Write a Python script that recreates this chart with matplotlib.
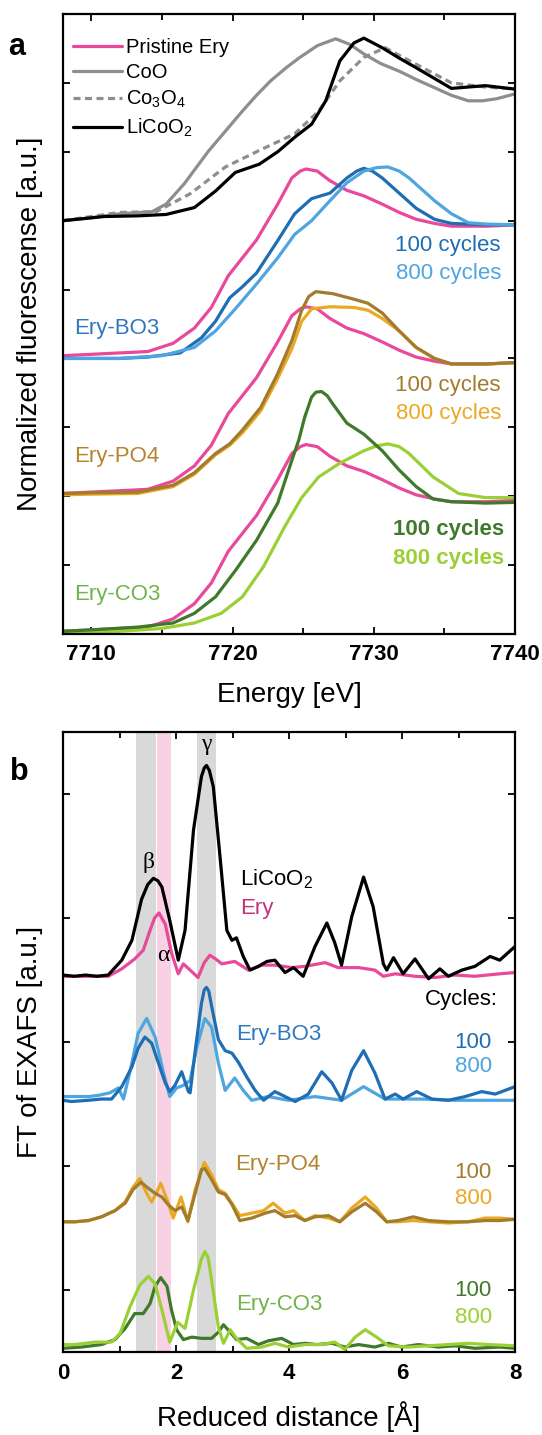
import matplotlib
matplotlib.use("Agg")
import matplotlib.pyplot as plt
from matplotlib.ticker import MultipleLocator

plt.rcParams['font.family'] = ['Liberation Sans', 'DejaVu Sans']
plt.rcParams['mathtext.fontset'] = 'custom'
plt.rcParams['mathtext.rm'] = 'Liberation Sans'
plt.rcParams['mathtext.it'] = 'Liberation Sans:italic'
plt.rcParams['mathtext.bf'] = 'Liberation Sans:bold'
plt.rcParams['lines.solid_joinstyle'] = 'round'
plt.rcParams['lines.solid_capstyle'] = 'round'

# ---------------- Panel a data: Co K-edge XANES (normalized) ----------------
E_coo = [7708, 7710, 7712, 7714.3, 7715.3, 7716.6, 7718.3, 7719.5, 7720.7, 7721.7, 7722.7,
         7723.8, 7724.7, 7726.0, 7727.3, 7728.3, 7729.3, 7730.5, 7731.8, 7733.0, 7734.3,
         7735.5, 7736.7, 7737.7, 7738.7, 7740]
mu_coo = [0.0, 0.02, 0.05, 0.065, 0.12, 0.27, 0.505, 0.65, 0.795, 0.91, 1.015,
          1.11, 1.18, 1.27, 1.32, 1.28, 1.21, 1.14, 1.085, 1.025, 0.965,
          0.91, 0.87, 0.87, 0.885, 0.92]

E_co3o4 = [7708, 7710, 7712, 7714.6, 7717.0, 7719.5, 7721.9, 7724.4, 7726.1, 7727.6,
           7729.3, 7730.8, 7733.0, 7735.5, 7737.9, 7740]
mu_co3o4 = [0.0, 0.03, 0.06, 0.065, 0.195, 0.39, 0.51, 0.63, 0.795, 1.015,
            1.185, 1.255, 1.135, 1.0, 0.97, 0.955]

E_lco = [7708, 7710.9, 7713.3, 7715.3, 7717.3, 7718.8, 7720.2, 7721.9, 7723.2, 7724.4,
         7725.6, 7726.6, 7727.6, 7728.6, 7729.3, 7730.6, 7731.8, 7733.0, 7735.5, 7737.9,
         7740]
mu_lco = [0.0, 0.03, 0.035, 0.045, 0.095, 0.215, 0.35, 0.41, 0.50, 0.605,
          0.70, 0.87, 1.16, 1.29, 1.325, 1.255, 1.18, 1.11, 0.96, 0.98,
          0.955]

E_ery = [7708, 7710, 7712, 7714, 7715.8, 7717.3, 7718.5, 7719.7, 7720.7, 7721.7,
         7723.2, 7724.2, 7724.8, 7725.2, 7726.0, 7726.9, 7728.1, 7729.3, 7730.6, 7731.8,
         7733, 7734.3, 7735.5, 7738, 7740]
mu_ery = [0.02, 0.03, 0.04, 0.05, 0.11, 0.22, 0.37, 0.60, 0.73, 0.86,
          1.12, 1.31, 1.36, 1.375, 1.36, 1.29, 1.22, 1.18, 1.12, 1.06,
          1.01, 0.98, 0.96, 0.96, 0.97]

E_bo3_100 = [7708, 7712, 7714, 7716.3, 7717.8, 7718.8, 7719.8, 7720.7, 7721.7, 7723.2,
             7724.4, 7725.6, 7726.9, 7728.1, 7728.8, 7729.3, 7729.9, 7730.6, 7731.8, 7733,
             7734.3, 7735.5, 7738, 7740]
mu_bo3_100 = [0.0, 0.0, 0.01, 0.04, 0.15, 0.27, 0.44, 0.52, 0.62, 0.855,
              1.05, 1.16, 1.2, 1.31, 1.36, 1.38, 1.36, 1.31, 1.2, 1.09,
              1.01, 0.98, 0.97, 0.97]
E_bo3_800 = [7708, 7712, 7715, 7717.3, 7718.8, 7720.2, 7721.7, 7723.2, 7724.4, 7725.6,
             7726.9, 7728.1, 7729.3, 7730.2, 7731, 7731.8, 7732.5, 7734.3, 7735.5, 7736.7,
             7738, 7740]
mu_bo3_800 = [0.0, 0.0, 0.02, 0.08, 0.2, 0.36, 0.54, 0.73, 0.9, 1.0,
              1.145, 1.275, 1.36, 1.385, 1.39, 1.36, 1.31, 1.145, 1.05, 0.985,
              0.975, 0.97]

E_po4_100 = [7708, 7710, 7713.3, 7715.8, 7717.3, 7718.8, 7719.8, 7720.7, 7722, 7723.2,
             7724.2, 7724.9, 7725.4, 7725.9, 7727.1, 7728.6, 7729.6, 7730.6, 7731.8, 7733,
             7734.3, 7735.5, 7738, 7740]
mu_po4_100 = [0.02, 0.025, 0.03, 0.08, 0.17, 0.31, 0.38, 0.48, 0.645, 0.89,
              1.13, 1.35, 1.45, 1.485, 1.47, 1.43, 1.40, 1.33, 1.2, 1.08,
              1.0, 0.96, 0.96, 0.97]
E_po4_800 = [7708, 7710, 7713.3, 7715.8, 7717.3, 7718.8, 7719.8, 7720.7, 7722, 7723.2,
             7724.2, 7724.9, 7725.6, 7726.9, 7728.6, 7729.6, 7730.6, 7731.8, 7733, 7734.3,
             7735.5, 7738, 7740]
mu_po4_800 = [0.01, 0.015, 0.02, 0.07, 0.16, 0.30, 0.37, 0.46, 0.62, 0.855,
              1.07, 1.27, 1.36, 1.375, 1.37, 1.35, 1.29, 1.2, 1.08, 1.0,
              0.96, 0.96, 0.97]

E_co3_100 = [7708, 7710, 7713.3, 7715.8, 7717.3, 7718.8, 7720.2, 7721.7, 7723.2, 7724.2,
             7724.7, 7725.1, 7725.6, 7725.9, 7726.3, 7726.7, 7727.1, 7728.1, 7729.3, 7730.6,
             7731.8, 7733.0, 7734.2, 7735.5, 7737.9, 7740]
mu_co3_100 = [0.02, 0.03, 0.05, 0.08, 0.15, 0.27, 0.46, 0.68, 0.95, 1.26,
              1.41, 1.57, 1.72, 1.755, 1.76, 1.73, 1.67, 1.53, 1.45, 1.33,
              1.19, 1.07, 0.98, 0.96, 0.95, 0.955]
E_co3_800 = [7708, 7712, 7715, 7717.3, 7719.2, 7720.7, 7722.2, 7723.7, 7724.9, 7726.1,
             7727.6, 7729.3, 7730.2, 7731.0, 7731.8, 7732.5, 7734.2, 7736.0, 7737.9, 7740]
mu_co3_800 = [0.0, 0.02, 0.04, 0.08, 0.15, 0.27, 0.49, 0.78, 0.99, 1.14,
              1.24, 1.33, 1.365, 1.38, 1.36, 1.31, 1.14, 1.02, 0.99, 0.99]

# ---------------- Panel b data: FT of EXAFS ----------------
r_lco = [0, 0.2, 0.4, 0.6, 0.8, 1.04, 1.22, 1.39, 1.50, 1.60, 1.68, 1.75, 1.89, 2.04, 2.16,
         2.31, 2.45, 2.50, 2.54, 2.59, 2.66, 2.78, 2.90, 2.99, 3.07, 3.19, 3.31, 3.46, 3.61,
         3.75, 3.93, 4.08, 4.25, 4.46, 4.67, 4.81, 4.93, 5.11, 5.32, 5.49, 5.67, 5.73, 5.85,
         6.02, 6.23, 6.47, 6.67, 6.82, 7.06, 7.29, 7.56, 7.73, 8.0]
ft_lco = [0.04, 0.03, 0.04, 0.03, 0.04, 0.16, 0.32, 0.65, 0.77, 0.82, 0.80, 0.75, 0.48, 0.16,
          0.40, 1.21, 1.64, 1.71, 1.73, 1.69, 1.56, 0.99, 0.40, 0.32, 0.34, 0.19, 0.08, 0.11,
          0.15, 0.16, 0.06, 0.10, 0.03, 0.27, 0.46, 0.30, 0.12, 0.51, 0.83, 0.59, 0.13, 0.08,
          0.18, 0.05, 0.17, 0.01, 0.09, 0.03, 0.08, 0.11, 0.19, 0.16, 0.27]

r_ery = [0, 0.4, 0.8, 1.04, 1.27, 1.42, 1.54, 1.62, 1.70, 1.81, 1.92, 2.04, 2.13, 2.25, 2.39,
         2.50, 2.60, 2.70, 2.81, 3.04, 3.28, 3.52, 3.75, 4.05, 4.28, 4.64, 4.87, 5.23, 5.52,
         5.67, 5.88, 6.23, 6.58, 6.94, 7.29, 7.73, 8.0]
ft_ery = [0.03, 0.03, 0.03, 0.09, 0.17, 0.24, 0.40, 0.50, 0.54, 0.45, 0.22, 0.05, 0.13, 0.08,
          0.02, 0.14, 0.20, 0.17, 0.13, 0.15, 0.08, 0.12, 0.12, 0.10, 0.11, 0.14, 0.10, 0.10,
          0.08, 0.03, 0.05, 0.03, 0.02, 0.04, 0.03, 0.05, 0.06]

r_bo3_100 = [0, 0.15, 0.45, 0.68, 0.86, 1.04, 1.22, 1.33, 1.45, 1.57, 1.69, 1.81, 1.89, 1.98,
             2.10, 2.22, 2.25, 2.34, 2.45, 2.50, 2.54, 2.58, 2.63, 2.75, 2.87, 2.99, 3.10, 3.25,
             3.40, 3.55, 3.75, 3.93, 4.11, 4.34, 4.58, 4.76, 4.93, 5.11, 5.32, 5.52, 5.70, 5.88,
             6.02, 6.26, 6.53, 6.82, 7.12, 7.41, 7.65, 8.0]
ft_bo3_100 = [0.03, 0.02, 0.03, 0.04, 0.04, 0.14, 0.30, 0.45, 0.54, 0.49, 0.33, 0.17, 0.10,
              0.15, 0.26, 0.10, 0.09, 0.43, 0.81, 0.92, 0.94, 0.91, 0.79, 0.52, 0.43, 0.41,
              0.34, 0.22, 0.11, 0.03, 0.10, 0.06, 0.02, 0.08, 0.26, 0.17, 0.03, 0.27, 0.43,
              0.25, 0.04, 0.08, 0.04, 0.10, 0.04, 0.03, 0.06, 0.10, 0.08, 0.14]
r_bo3_800 = [0, 0.15, 0.45, 0.63, 0.83, 0.98, 1.07, 1.19, 1.33, 1.48, 1.63, 1.78, 1.89, 2.01,
             2.13, 2.25, 2.37, 2.51, 2.63, 2.75, 2.87, 3.04, 3.19, 3.34, 3.63, 3.99, 4.46,
             4.93, 5.32, 5.70, 6.35, 6.94, 7.53, 8.0]
ft_bo3_800 = [0.06, 0.06, 0.06, 0.07, 0.09, 0.13, 0.04, 0.27, 0.57, 0.69, 0.54, 0.25, 0.06,
              0.13, 0.15, 0.19, 0.46, 0.69, 0.62, 0.33, 0.11, 0.21, 0.11, 0.03, 0.06, 0.03,
              0.06, 0.03, 0.14, 0.04, 0.04, 0.03, 0.03, 0.03]

r_po4_100 = [0, 0.21, 0.45, 0.68, 0.92, 1.10, 1.24, 1.38, 1.51, 1.63, 1.75, 1.86, 1.98, 2.10,
             2.21, 2.34, 2.45, 2.51, 2.63, 2.75, 2.87, 2.99, 3.13, 3.34, 3.58, 3.75, 3.93,
             4.11, 4.28, 4.46, 4.70, 4.90, 5.11, 5.35, 5.55, 5.73, 5.93, 6.20, 6.47, 6.82,
             7.17, 7.47, 7.73, 8.0]
ft_po4_100 = [0.05, 0.05, 0.06, 0.09, 0.14, 0.20, 0.31, 0.37, 0.32, 0.28, 0.25, 0.19, 0.14,
              0.17, 0.06, 0.28, 0.47, 0.48, 0.39, 0.29, 0.27, 0.19, 0.06, 0.08, 0.12, 0.14,
              0.09, 0.10, 0.06, 0.09, 0.10, 0.05, 0.13, 0.20, 0.13, 0.05, 0.06, 0.09, 0.06,
              0.05, 0.05, 0.06, 0.06, 0.07]
r_po4_800 = [0, 0.21, 0.45, 0.68, 0.92, 1.10, 1.24, 1.36, 1.48, 1.57, 1.66, 1.73, 1.84, 1.95,
             2.09, 2.21, 2.34, 2.50, 2.63, 2.75, 2.87, 2.99, 3.13, 3.34, 3.55, 3.72, 3.93,
             4.08, 4.28, 4.46, 4.70, 4.90, 5.11, 5.35, 5.55, 5.73, 5.93, 6.20, 6.47, 6.82,
             7.17, 7.47, 7.73, 8.0]
ft_po4_800 = [0.05, 0.05, 0.06, 0.09, 0.14, 0.21, 0.33, 0.40, 0.28, 0.21, 0.29, 0.36, 0.23,
              0.08, 0.25, 0.05, 0.31, 0.53, 0.43, 0.31, 0.28, 0.20, 0.10, 0.12, 0.14, 0.20,
              0.12, 0.14, 0.06, 0.10, 0.08, 0.05, 0.16, 0.25, 0.16, 0.05, 0.05, 0.06, 0.05,
              0.04, 0.05, 0.08, 0.08, 0.07]

r_co3_100 = [0, 0.33, 0.68, 0.92, 1.10, 1.27, 1.42, 1.54, 1.63, 1.73, 1.84, 1.92, 2.01, 2.13,
             2.28, 2.45, 2.63, 2.75, 2.84, 2.96, 3.07, 3.25, 3.46, 3.63, 3.87, 4.08, 4.28,
             4.49, 4.76, 4.99, 5.23, 5.52, 5.76, 5.99, 6.29, 6.64, 6.94, 7.29, 7.73, 8.0]
ft_co3_100 = [0.03, 0.04, 0.06, 0.10, 0.19, 0.31, 0.31, 0.39, 0.53, 0.60, 0.53, 0.34, 0.18,
              0.10, 0.12, 0.11, 0.11, 0.16, 0.22, 0.16, 0.10, 0.11, 0.06, 0.09, 0.11, 0.06,
              0.07, 0.06, 0.07, 0.04, 0.06, 0.04, 0.07, 0.04, 0.06, 0.04, 0.05, 0.03, 0.04,
              0.03]
r_co3_800 = [0, 0.21, 0.57, 0.86, 1.01, 1.19, 1.36, 1.51, 1.63, 1.75, 1.89, 2.03, 2.16, 2.31,
             2.45, 2.51, 2.57, 2.63, 2.75, 2.84, 2.96, 3.07, 3.25, 3.52, 3.75, 3.99, 4.28, 4.58,
             4.81, 4.99, 5.17, 5.35, 5.55, 5.76, 6.11, 6.47, 6.82, 7.17, 7.53, 8.0]
ft_co3_800 = [0.06, 0.06, 0.08, 0.08, 0.15, 0.37, 0.54, 0.61, 0.55, 0.34, 0.08, 0.24, 0.19,
              0.50, 0.75, 0.81, 0.76, 0.58, 0.20, 0.07, 0.18, 0.11, 0.03, 0.04, 0.07, 0.04,
              0.06, 0.06, 0.08, 0.02, 0.12, 0.18, 0.12, 0.05, 0.04, 0.05, 0.06, 0.07, 0.06,
              0.05]

band_beta = (1.29, 1.65)
band_alpha = (1.67, 1.91)
band_gamma = (2.38, 2.71)

# ---------------- colours ----------------
C_PINK = '#e8499a'
C_GRAY = '#8e8e8e'
C_B100 = '#1f6db3'
C_B800 = '#4ea5e0'
C_P100 = '#a27b2c'
C_P800 = '#eaa924'
C_C100 = '#3f7a2a'
C_C800 = '#9ccf36'
LW = 2.3

W, H = 542, 1435
fig = plt.figure(figsize=(W / 100, H / 100), dpi=100)

def add_ax(left, top, right, bottom):
    return fig.add_axes([left / W, 1 - bottom / H, (right - left) / W, (bottom - top) / H])

axa = add_ax(63, 14, 515, 634)
axb = add_ax(63, 732, 515, 1352)

def style(ax, pad):
    for s in ax.spines.values():
        s.set_linewidth(1.6)
    ax.tick_params(which='both', direction='in', top=True, right=True, width=1.3,
                   labelsize=16, pad=pad)
    ax.tick_params(which='major', length=5)
    ax.tick_params(which='minor', length=4)
    ax.tick_params(axis='y', labelleft=False)
    for lab in ax.get_xticklabels():
        lab.set_fontweight('bold')

# ---------------- Panel a ----------------
def off(vals, o):
    return [2 * v + o for v in vals]

l1, = axa.plot(E_ery, off(mu_ery, 4), color=C_PINK, lw=LW, label='Pristine Ery')
l2, = axa.plot(E_coo, off(mu_coo, 6), color=C_GRAY, lw=LW, label='CoO')
l3, = axa.plot(E_co3o4, off(mu_co3o4, 6), color=C_GRAY, lw=LW, ls=(0, (2.2, 1.4)),
               label='Co$_3$O$_4$')
l4, = axa.plot(E_lco, off(mu_lco, 6), color='black', lw=LW, label='LiCoO$_2$')

axa.plot(E_bo3_100, off(mu_bo3_100, 4), color=C_B100, lw=LW)
axa.plot(E_bo3_800, off(mu_bo3_800, 4), color=C_B800, lw=LW)
axa.plot(E_ery, off(mu_ery, 2), color=C_PINK, lw=LW)
axa.plot(E_po4_800, off(mu_po4_800, 2), color=C_P800, lw=LW)
axa.plot(E_po4_100, off(mu_po4_100, 2), color=C_P100, lw=LW)
axa.plot(E_ery, off(mu_ery, 0), color=C_PINK, lw=LW)
axa.plot(E_co3_800, off(mu_co3_800, 0), color=C_C800, lw=LW)
axa.plot(E_co3_100, off(mu_co3_100, 0), color=C_C100, lw=LW)

axa.set_xlim(7708, 7740)
axa.set_ylim(0, 9)
axa.xaxis.set_major_locator(MultipleLocator(10))
axa.xaxis.set_minor_locator(MultipleLocator(5))
axa.yaxis.set_major_locator(MultipleLocator(1))
style(axa, 7)

leg = axa.legend(handles=[l1, l2, l3, l4], loc='upper left', bbox_to_anchor=(0.022, 0.962),
                 frameon=False, fontsize=14.5, handlelength=2.45, handletextpad=0.2,
                 labelspacing=0.33, borderpad=0, borderaxespad=0)

fs = 16
axa.text(7739.0, 5.64, '100 cycles', color=C_B100, fontsize=fs, ha='right', va='center')
axa.text(7739.0, 5.23, '800 cycles', color=C_B800, fontsize=fs, ha='right', va='center')
axa.text(7708.8, 4.43, 'Ery-BO3', color='#2f78bf', fontsize=fs, ha='left', va='center')
axa.text(7739.0, 3.61, '100 cycles', color=C_P100, fontsize=fs, ha='right', va='center')
axa.text(7739.0, 3.20, '800 cycles', color=C_P800, fontsize=fs, ha='right', va='center')
axa.text(7708.8, 2.57, 'Ery-PO4', color='#b3842f', fontsize=fs, ha='left', va='center')
axa.text(7739.2, 1.51, '100 cycles', color=C_C100, fontsize=fs, ha='right', va='center',
         fontweight='bold')
axa.text(7739.2, 1.10, '800 cycles', color=C_C800, fontsize=fs, ha='right', va='center',
         fontweight='bold')
axa.text(7708.8, 0.57, 'Ery-CO3', color='#6db54a', fontsize=fs, ha='left', va='center')

axa.set_xlabel('Energy [eV]', fontsize=20)
axa.xaxis.set_label_coords(0.5, -0.077)
axa.set_ylabel('Normalized fluorescense [a.u.]', fontsize=20)
axa.yaxis.set_label_coords(-0.045, 0.5)

# ---------------- Panel b ----------------
for (a, b), c in [(band_beta, '#d9d9d9'), (band_alpha, '#f8d2e4'), (band_gamma, '#d9d9d9')]:
    axb.axvspan(a, b, color=c, lw=0, zorder=0)

def offb(vals, o):
    return [v + o for v in vals]

axb.plot(r_ery, offb(ft_ery, 3), color=C_PINK, lw=LW)
axb.plot(r_lco, offb(ft_lco, 3), color='black', lw=LW)
axb.plot(r_bo3_800, offb(ft_bo3_800, 2), color=C_B800, lw=LW)
axb.plot(r_bo3_100, offb(ft_bo3_100, 2), color=C_B100, lw=LW)
axb.plot(r_po4_800, offb(ft_po4_800, 1), color=C_P800, lw=LW)
axb.plot(r_po4_100, offb(ft_po4_100, 1), color=C_P100, lw=LW)
axb.plot(r_co3_100, offb(ft_co3_100, 0), color=C_C100, lw=LW)
axb.plot(r_co3_800, offb(ft_co3_800, 0), color=C_C800, lw=LW)

axb.set_xlim(0, 8)
axb.set_ylim(0, 5)
axb.xaxis.set_major_locator(MultipleLocator(2))
axb.xaxis.set_minor_locator(MultipleLocator(1))
axb.set_yticks([0.5, 1.5, 2.5, 3.5, 4.5])
style(axb, 8)

gfont = dict(family=['Liberation Serif', 'DejaVu Serif'], fontsize=17, ha='center', va='center')
axb.text(2.54, 4.90, 'γ', **gfont)
axb.text(1.51, 3.95, 'β', **gfont)
axb.text(1.78, 3.20, 'α', **gfont)

axb.text(3.14, 3.81, 'LiCoO$_2$', color='black', fontsize=fs, ha='left', va='center')
axb.text(3.14, 3.58, 'Ery', color='#c2347a', fontsize=fs, ha='left', va='center')
axb.text(7.70, 2.84, 'Cycles:', color='black', fontsize=fs, ha='right', va='center')
axb.text(3.07, 2.56, 'Ery-BO3', color='#2f78bf', fontsize=fs, ha='left', va='center')
axb.text(7.59, 2.50, '100', color=C_B100, fontsize=fs, ha='right', va='center')
axb.text(7.59, 2.30, '800', color=C_B800, fontsize=fs, ha='right', va='center')
axb.text(3.04, 1.51, 'Ery-PO4', color='#b3842f', fontsize=fs, ha='left', va='center')
axb.text(7.59, 1.45, '100', color=C_P100, fontsize=fs, ha='right', va='center')
axb.text(7.59, 1.24, '800', color=C_P800, fontsize=fs, ha='right', va='center')
axb.text(3.07, 0.38, 'Ery-CO3', color='#6db54a', fontsize=fs, ha='left', va='center')
axb.text(7.59, 0.50, '100', color=C_C100, fontsize=fs, ha='right', va='center')
axb.text(7.59, 0.28, '800', color=C_C800, fontsize=fs, ha='right', va='center')

axb.set_xlabel('Reduced distance [Å]', fontsize=20)
axb.xaxis.set_label_coords(0.5, -0.079)
axb.set_ylabel('FT of EXAFS [a.u.]', fontsize=20)
axb.yaxis.set_label_coords(-0.045, 0.5)

fig.text(17 / W, 1 - 47 / H, 'a', fontsize=22, fontweight='bold', ha='center', va='center')
fig.text(19 / W, 1 - 772 / H, 'b', fontsize=22, fontweight='bold', ha='center', va='center')

fig.savefig('out.png', dpi=100)
